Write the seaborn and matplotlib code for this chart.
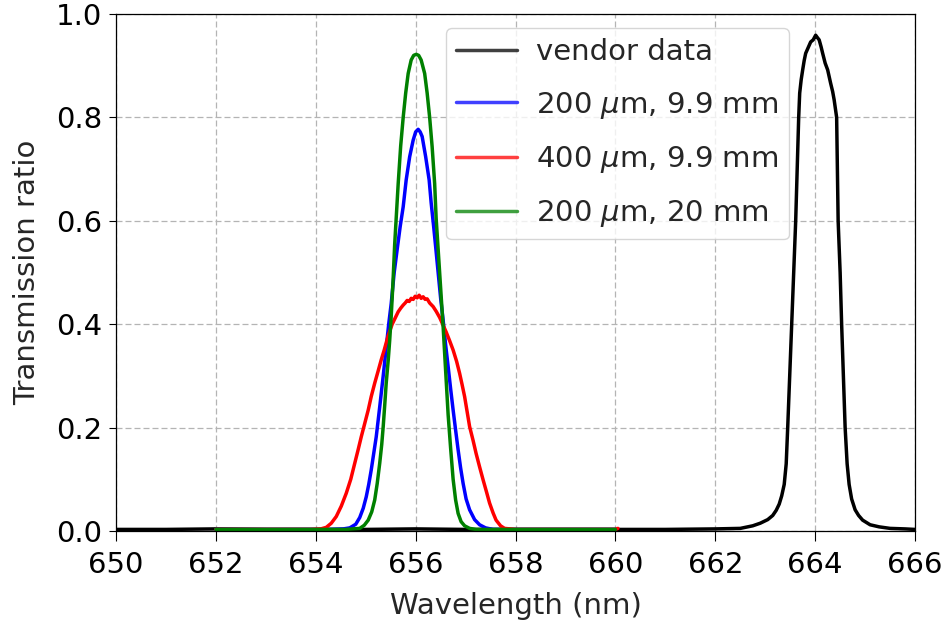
import matplotlib
matplotlib.use("Agg")
import matplotlib.pyplot as plt
import pandas as pd
import seaborn as sns

# Measured filter transmission curves (wavelength in nm, transmission ratio)
vendor_wl = [650.0, 651.0, 652.0, 653.0, 654.0, 655.0, 656.0, 657.0, 658.0, 659.0,
             660.0, 661.0, 662.0, 662.5, 662.75, 662.9, 663.05, 663.15, 663.22, 663.28,
             663.33, 663.38, 663.42, 663.45, 663.49, 663.53, 663.57, 663.61, 663.64,
             663.67, 663.69, 663.72, 663.75, 663.78, 663.81, 663.86, 663.91, 663.96,
             664.01, 664.04, 664.08, 664.12, 664.15, 664.20, 664.25, 664.31, 664.35,
             664.38, 664.43, 664.445, 664.46, 664.50, 664.53, 664.565, 664.60, 664.64,
             664.68, 664.73, 664.80, 664.87, 664.95, 665.10, 665.28, 665.50, 665.80,
             666.0]
vendor_t = [0.003, 0.003, 0.004, 0.003, 0.003, 0.003, 0.004, 0.003, 0.003, 0.003,
            0.003, 0.003, 0.004, 0.005, 0.010, 0.015, 0.022, 0.030, 0.040, 0.052,
            0.068, 0.090, 0.130, 0.200, 0.300, 0.400, 0.500, 0.600, 0.700,
            0.800, 0.847, 0.873, 0.892, 0.910, 0.924, 0.935, 0.946, 0.950,
            0.959, 0.955, 0.950, 0.936, 0.924, 0.905, 0.892, 0.866, 0.850,
            0.834, 0.800, 0.700, 0.600, 0.500, 0.400, 0.300, 0.200, 0.130,
            0.090, 0.062, 0.041, 0.030, 0.021, 0.012, 0.008, 0.005, 0.004,
            0.003]

s200_99_wl = [652.0, 654.3, 654.55, 654.68, 654.80, 654.88, 654.95, 655.01, 655.06,
              655.11, 655.16, 655.21, 655.28, 655.35, 655.41, 655.46, 655.51, 655.57,
              655.63, 655.69, 655.75, 655.81, 655.88, 655.95, 656.00, 656.05, 656.09,
              656.13, 656.20, 656.27, 656.31, 656.36, 656.40, 656.45, 656.50, 656.55,
              656.60, 656.65, 656.70, 656.75, 656.80, 656.85, 656.90, 656.95, 657.01,
              657.08, 657.18, 657.28, 657.40, 657.55, 660.0]
s200_99_t = [0.003, 0.003, 0.004, 0.006, 0.013, 0.026, 0.044, 0.066, 0.090,
             0.118, 0.150, 0.182, 0.240, 0.300, 0.355, 0.400, 0.440, 0.500,
             0.545, 0.589, 0.627, 0.679, 0.724, 0.756, 0.772, 0.777, 0.772,
             0.763, 0.724, 0.679, 0.635, 0.589, 0.550, 0.500, 0.450, 0.408,
             0.360, 0.318, 0.275, 0.234, 0.195, 0.157, 0.122, 0.092, 0.062,
             0.041, 0.022, 0.012, 0.006, 0.003, 0.003]

s400_99_wl = [652.0, 653.9, 654.1, 654.21, 654.31, 654.41, 654.51, 654.61, 654.70,
              654.78, 654.85, 654.91, 654.98, 655.05, 655.11, 655.18, 655.25, 655.31,
              655.37, 655.45, 655.53, 655.60, 655.65, 655.70, 655.75, 655.79, 655.83,
              655.87, 655.91, 655.95, 655.99, 656.03, 656.07, 656.11, 656.15, 656.19,
              656.23, 656.28, 656.35, 656.41, 656.48, 656.55, 656.61, 656.68, 656.75,
              656.82, 656.88, 656.93, 656.98, 657.03, 657.08, 657.15, 657.21, 657.28,
              657.35, 657.42, 657.48, 657.55, 657.61, 657.70, 657.78, 658.0, 660.0,
              660.05]
s400_99_t = [0.003, 0.003, 0.004, 0.007, 0.015, 0.028, 0.048, 0.073, 0.100,
             0.131, 0.158, 0.182, 0.208, 0.234, 0.260, 0.286, 0.310, 0.331,
             0.350, 0.378, 0.400, 0.414, 0.424, 0.431, 0.437, 0.441, 0.446,
             0.444, 0.450, 0.448, 0.454, 0.451, 0.456, 0.450, 0.453, 0.448,
             0.449, 0.441, 0.434, 0.425, 0.413, 0.398, 0.385, 0.368, 0.350,
             0.328, 0.305, 0.283, 0.260, 0.231, 0.202, 0.175, 0.150, 0.124,
             0.099, 0.075, 0.054, 0.035, 0.021, 0.010, 0.005, 0.003, 0.003,
             0.005]

s200_20_wl = [652.0, 654.0, 654.6, 654.88, 654.97, 655.05, 655.12, 655.18, 655.23,
              655.28, 655.32, 655.35, 655.38, 655.41, 655.45, 655.48, 655.51, 655.545,
              655.58, 655.61, 655.65, 655.70, 655.75, 655.80, 655.85, 655.91, 655.96,
              656.01, 656.06, 656.11, 656.18, 656.23, 656.28, 656.33, 656.38, 656.41,
              656.45, 656.50, 656.55, 656.60, 656.65, 656.70, 656.75, 656.80, 656.85,
              656.91, 656.98, 657.08, 657.21, 658.0, 660.0]
s200_20_t = [0.003, 0.003, 0.003, 0.005, 0.011, 0.021, 0.037, 0.060, 0.092,
             0.131, 0.167, 0.202, 0.243, 0.286, 0.330, 0.369, 0.415, 0.480,
             0.555, 0.605, 0.672, 0.745, 0.800, 0.847, 0.885, 0.911, 0.920,
             0.922, 0.920, 0.911, 0.885, 0.847, 0.800, 0.743, 0.672, 0.605,
             0.545, 0.470, 0.395, 0.310, 0.225, 0.160, 0.100, 0.060, 0.034,
             0.018, 0.010, 0.005, 0.003, 0.003, 0.003]

labels = ["vendor data", r"200 $\mu$m, 9.9 mm", r"400 $\mu$m, 9.9 mm", r"200 $\mu$m, 20 mm"]
colors = ["black", "blue", "red", "green"]
x_ticks = [650, 652, 654, 656, 658, 660, 662, 664, 666]
y_ticks = [0.0, 0.2, 0.4, 0.6, 0.8, 1.0]

series = [(vendor_wl, vendor_t), (s200_99_wl, s200_99_t),
          (s400_99_wl, s400_99_t), (s200_20_wl, s200_20_t)]
df = pd.concat(
    [pd.DataFrame({"wl": w, "t": t, "curve": lab}) for (w, t), lab in zip(series, labels)],
    ignore_index=True,
)

sns.set_style("ticks")
plt.rcParams.update({
    "font.family": ["DejaVu Sans"],
    "font.size": 21,
    "axes.labelsize": 21,
    "xtick.labelsize": 21,
    "ytick.labelsize": 21,
    "legend.fontsize": 21,
    "axes.edgecolor": "black",
    "axes.linewidth": 0.9,
    "xtick.color": "black",
    "ytick.color": "black",
    "text.color": "#262626",
    "axes.labelcolor": "#262626",
})

fig, ax = plt.subplots(figsize=(9.45, 6.26), dpi=100)
fig.subplots_adjust(left=0.1228, right=0.9683, bottom=0.1518, top=0.9776)

sns.lineplot(data=df, x="wl", y="t", hue="curve", hue_order=labels,
             palette=dict(zip(labels, colors)), estimator=None, sort=False,
             lw=2.5, ax=ax)

ax.set_xlim(650, 666)
ax.set_ylim(0, 1.0)
ax.set_xticks(x_ticks)
ax.set_yticks(y_ticks)
ax.set_xticklabels([str(v) for v in x_ticks])
ax.set_yticklabels([f"{v:.1f}" for v in y_ticks])
ax.tick_params(axis="x", direction="out", length=7.5, width=0.8, pad=7)
ax.tick_params(axis="y", direction="out", length=5, width=0.8, pad=5)
ax.grid(True, color="#b4b4b4", linestyle=(0, (4.8, 2.4)), lw=0.9)
ax.set_axisbelow(True)
for s in ax.spines.values():
    s.set_visible(True)
    s.set_color("black")

ax.set_xlabel("Wavelength (nm)", labelpad=9)
ax.set_ylabel("Transmission ratio", labelpad=11)

handles, lbls = ax.get_legend_handles_labels()
leg = ax.legend(handles, lbls, loc="upper left", bbox_to_anchor=(0.413, 0.973),
                borderaxespad=0, frameon=True, framealpha=0.8, edgecolor="#cccccc",
                fancybox=True, labelspacing=0.8, borderpad=0.35, handlelength=2.1,
                handletextpad=0.65)
for h in leg.get_lines():
    h.set_alpha(0.75)
    h.set_linewidth(2.5)

fig.savefig("out.png", dpi=100)
